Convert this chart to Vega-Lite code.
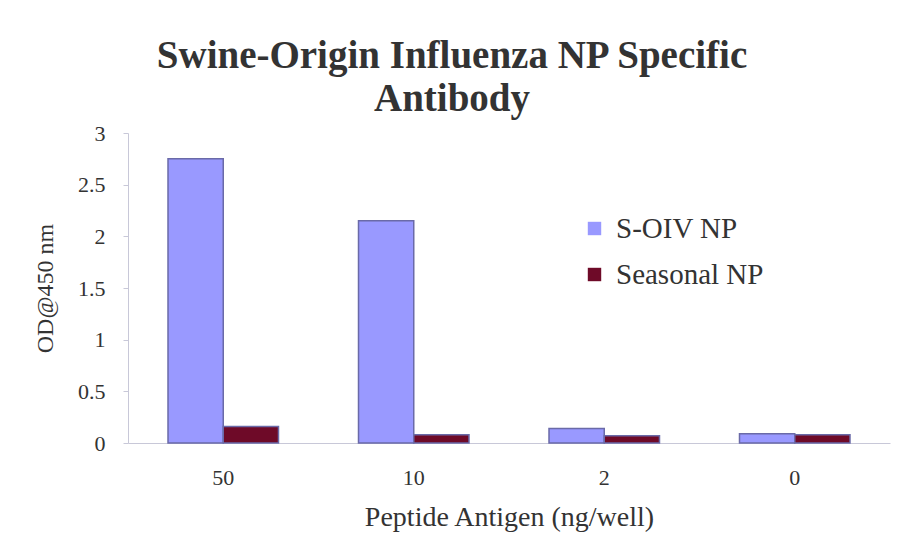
{
  "$schema": "https://vega.github.io/schema/vega-lite/v6.json",
  "autosize": "none",
  "width": 762,
  "height": 310,
  "padding": {"left": 128, "top": 133, "right": 10, "bottom": 103},
  "background": "white",
  "title": {
    "text": ["Swine-Origin Influenza NP Specific", "Antibody"],
    "font": "Liberation Serif",
    "fontSize": 39,
    "fontWeight": "bold",
    "color": "#333333",
    "lineHeight": 43,
    "anchor": "middle",
    "dx": -57,
    "offset": 3
  },
  "data": {
    "values": [
      {"antigen": "50", "series": "S-OIV NP", "od": 2.75},
      {"antigen": "50", "series": "Seasonal NP", "od": 0.16},
      {"antigen": "10", "series": "S-OIV NP", "od": 2.15},
      {"antigen": "10", "series": "Seasonal NP", "od": 0.08},
      {"antigen": "2", "series": "S-OIV NP", "od": 0.14},
      {"antigen": "2", "series": "Seasonal NP", "od": 0.07},
      {"antigen": "0", "series": "S-OIV NP", "od": 0.09},
      {"antigen": "0", "series": "Seasonal NP", "od": 0.08}
    ]
  },
  "mark": {"type": "bar", "stroke": "#6a6aa8", "strokeWidth": 1.5},
  "encoding": {
    "x": {
      "field": "antigen",
      "type": "nominal",
      "sort": ["50", "10", "2", "0"],
      "scale": {"paddingInner": 0.42, "paddingOuter": 0.21},
      "axis": {
        "title": "Peptide Antigen (ng/well)",
        "labelAngle": 0,
        "labelPadding": 24,
        "ticks": false,
        "titlePadding": 15,
        "titleFontSize": 28
      }
    },
    "xOffset": {"field": "series", "type": "nominal", "sort": ["S-OIV NP", "Seasonal NP"]},
    "y": {
      "field": "od",
      "type": "quantitative",
      "scale": {"domain": [0, 3]},
      "axis": {
        "title": "OD@450 nm",
        "values": [0, 0.5, 1, 1.5, 2, 2.5, 3],
        "format": "~g",
        "grid": false,
        "tickSize": 5,
        "labelPadding": 18,
        "titlePadding": 20,
        "titleFontSize": 24
      }
    },
    "color": {
      "field": "series",
      "type": "nominal",
      "sort": ["S-OIV NP", "Seasonal NP"],
      "scale": {"range": ["#9999ff", "#6e0a28"]},
      "legend": {
        "title": null,
        "orient": "none",
        "legendX": 452,
        "legendY": 81,
        "symbolType": "square",
        "symbolSize": 180,
        "symbolStrokeWidth": 0,
        "labelFont": "Liberation Serif",
        "labelFontSize": 29,
        "labelColor": "#333333",
        "labelOffset": 7,
        "rowPadding": 16
      }
    }
  },
  "config": {
    "view": {"stroke": null},
    "axis": {
      "labelFont": "Liberation Serif",
      "titleFont": "Liberation Serif",
      "labelFontSize": 22,
      "titleFontWeight": "normal",
      "labelColor": "#333333",
      "titleColor": "#333333",
      "domainColor": "#c8c8d8",
      "tickColor": "#c8c8d8"
    }
  }
}
